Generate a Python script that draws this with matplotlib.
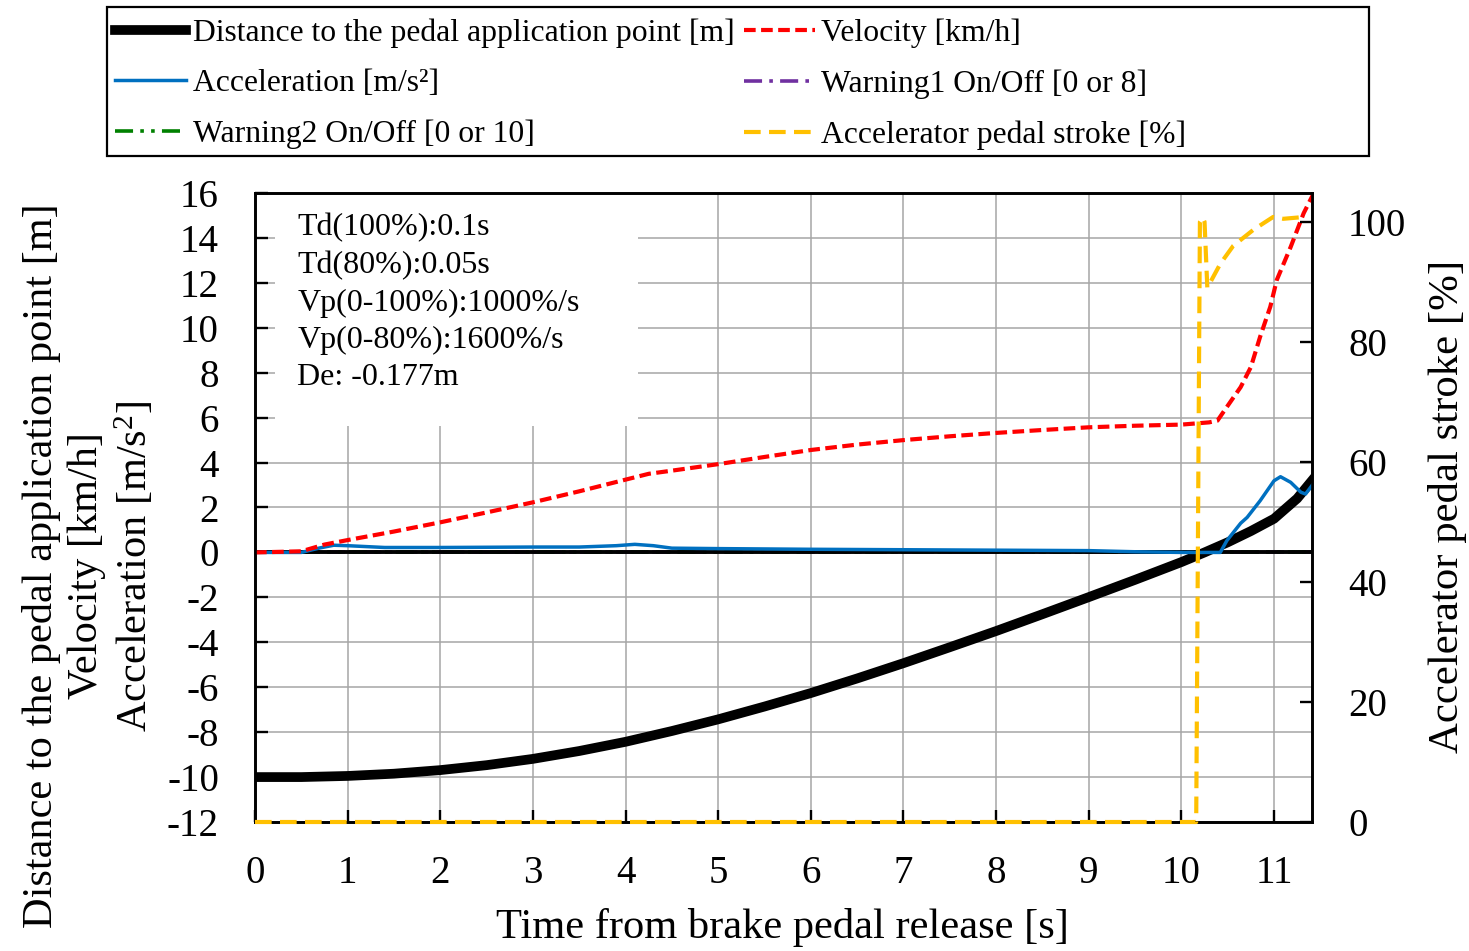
import matplotlib
matplotlib.use('Agg')
import matplotlib.pyplot as plt
from matplotlib.patches import Rectangle

plt.rcParams['font.family'] = ['Liberation Serif', 'DejaVu Serif']
plt.rcParams['mathtext.fontset'] = 'custom'
plt.rcParams['mathtext.rm'] = 'Liberation Serif'
plt.rcParams['mathtext.it'] = 'Liberation Serif:italic'
plt.rcParams['axes.unicode_minus'] = False

# distance to the pedal application point [m]
t_dist = [0, 0.5, 1, 1.5, 2, 2.5, 3, 3.5, 4, 4.5, 5, 5.5, 6, 6.5, 7, 7.5, 8, 8.5,
          9, 9.5, 10, 10.25, 10.5, 10.75, 11.0, 11.25, 11.43]
dist = [-10.0, -10.0, -9.95, -9.85, -9.69, -9.47, -9.19, -8.84, -8.43, -7.95, -7.43,
        -6.86, -6.26, -5.61, -4.93, -4.22, -3.5, -2.75, -1.99, -1.22, -0.43, 0.0,
        0.45, 0.95, 1.5, 2.4, 3.3]

# velocity [km/h]
t_vel = [0, 0.5, 0.75, 1, 1.5, 2, 2.5, 3, 3.5, 4, 4.25, 4.5, 5, 5.5, 6, 6.5, 7, 7.5,
         8, 8.5, 9, 9.5, 10, 10.3, 10.39, 10.49, 10.64, 10.75, 10.85, 10.96, 11.03,
         11.18, 11.32, 11.43]
vel = [0, 0.05, 0.35, 0.55, 0.93, 1.34, 1.78, 2.23, 2.72, 3.24, 3.5, 3.64, 3.93, 4.25,
       4.56, 4.8, 5.0, 5.17, 5.32, 5.45, 5.57, 5.64, 5.69, 5.79, 5.87, 6.47, 7.36,
       8.25, 9.6, 10.94, 12.13, 13.6, 15.1, 16.0]

# acceleration [m/s2]
t_acc = [0, 0.5, 0.7, 0.85, 1, 1.4, 2, 3, 3.5, 3.9, 4.1, 4.3, 4.5, 5, 6, 7, 8, 9,
         9.5, 10, 10.42, 10.49, 10.64, 10.71, 10.85, 11.0, 11.07, 11.18, 11.29,
         11.34, 11.43]
acc = [0, 0, 0.2, 0.32, 0.3, 0.22, 0.22, 0.24, 0.24, 0.3, 0.36, 0.3, 0.19, 0.17,
       0.14, 0.12, 0.1, 0.08, 0.03, 0, 0, 0.52, 1.3, 1.56, 2.3, 3.19, 3.37, 3.12,
       2.68, 2.6, 3.09]

# warnings (off for the whole run)
t_warn = [0, 11.43]
warn1 = [0, 0]
warn2 = [0, 0]

# accelerator pedal stroke [%]
t_ped = [0, 10.16, 10.2, 10.23, 10.25, 10.28, 10.42, 10.56, 10.78, 10.99, 11.1, 11.32]
pedal = [0, 0, 100, 100.7, 100, 89, 93, 96, 98.7, 100.8, 100.5, 100.8]

info_lines = ['Td(100%):0.1s', 'Td(80%):0.05s', 'Vp(0-100%):1000%/s',
              'Vp(0-80%):1600%/s', 'De: -0.177m']

W, H = 1469, 951
fig = plt.figure(figsize=(W / 100, H / 100), dpi=100)
ax = fig.add_axes([255 / W, 1 - 822 / H, (1312 - 255) / W, (822 - 193) / H])
ax2 = ax.twinx()

ax.set_xlim(0, 11.41)
ax.set_ylim(-12, 16)
ax2.set_ylim(0, 104.8)
ax.set_xticks(range(0, 12))
ax.set_yticks(range(-12, 17, 2))
ax2.set_yticks(range(0, 101, 20))

ax.grid(True, color='#A6A6A6', linewidth=1.1)
ax.set_axisbelow(True)

# white box behind the info text
ax.add_patch(Rectangle((0.019, 0.63), 0.343, 0.37, transform=ax.transAxes,
                       facecolor='white', edgecolor='none', zorder=1))

lw1, = ax.plot(t_warn, warn1, color='#7030A0', linewidth=2.6,
               dashes=(5, 2, 1, 2), zorder=2)
lw2, = ax.plot(t_warn, warn2, color='#008000', linewidth=2.6,
               dashes=(5, 2, 1, 2, 1, 2), zorder=2)
ax.axhline(0, color='black', linewidth=2.8, zorder=3)
ld, = ax.plot(t_dist, dist, color='black', linewidth=7, zorder=4)
la, = ax.plot(t_acc, acc, color='#0070C0', linewidth=2.5, zorder=5)
lv, = ax.plot(t_vel, vel, color='#FF0000', linewidth=3, dashes=(2.8, 1.3), zorder=6)
lp, = ax2.plot(t_ped, pedal, color='#FFC000', linewidth=3, dashes=(4, 2),
               clip_on=False, zorder=5)

for a in (ax, ax2):
    for s in a.spines.values():
        s.set_linewidth(1.9)

ax.tick_params(axis='both', direction='in', length=9, width=1.7, labelsize=28)
ax.tick_params(axis='y', pad=26)
ax.tick_params(axis='x', pad=24)
ax2.tick_params(axis='y', direction='in', length=9, width=1.7, labelsize=28, pad=26)

ax.set_xlabel('Time from brake pedal release [s]', fontsize=30.6, va='center')
ax.xaxis.set_label_coords(0.4986, -0.1685)
ax.set_ylabel('Distance to the pedal application point [m]\nVelocity [km/h]\n'
              'Acceleration [m/s$^{2}$]', fontsize=30.5, va='center', ha='center',
              linespacing=1.22)
ax.yaxis.set_label_coords(-0.157, 0.407)
ax2.set_ylabel('Accelerator pedal stroke [%]', fontsize=30.8, va='center', ha='center')
ax2.yaxis.set_label_coords(1.128, 0.502)

ax.text(0.04, 0.968, '\n'.join(info_lines), transform=ax.transAxes, fontsize=23,
        va='top', ha='left', linespacing=1.38, zorder=7)

# legend above the plot
handles = [ld, la, lw2, lv, lw1, lp]
labels = ['Distance to the pedal application point [m]', 'Acceleration [m/s\u00b2]',
          'Warning2 On/Off [0 or 10]', 'Velocity [km/h]', 'Warning1 On/Off [0 or 8]',
          'Accelerator pedal stroke [%]']
fig.legend(handles, labels, ncol=2, loc='center left',
           bbox_to_anchor=(115 / W, 1 - 84 / H), frameon=False, fontsize=22.8,
           borderpad=0, borderaxespad=0, handlelength=2.25, handletextpad=0.2,
           columnspacing=0.3, labelspacing=0.68)
fig.patches.append(Rectangle((107 / W, 1 - 156 / H), (1369 - 107) / W, (156 - 7) / H,
                             transform=fig.transFigure, facecolor='none',
                             edgecolor='black', linewidth=1.6))

fig.savefig('out.png', dpi=100)
